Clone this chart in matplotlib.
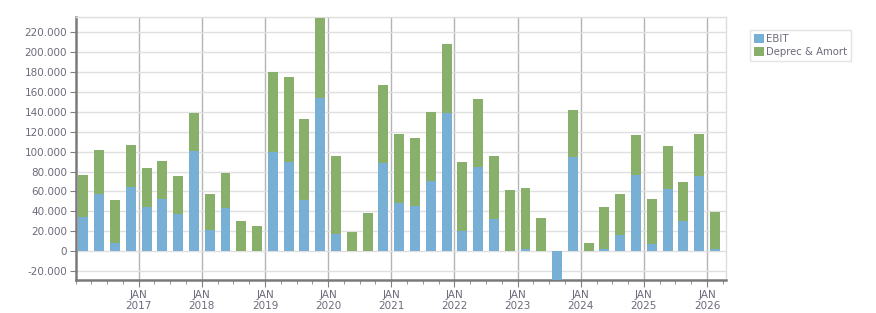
import numpy as np
import matplotlib.pyplot as plt
from matplotlib.ticker import FuncFormatter, MultipleLocator

# quarterly values, 2016 Q1 .. 2026 Q1
ebit = [34200, 57700, 8000, 64400, 44300, 52300, 37600, 100700, 21100, 43600,
        -500, -500, 99700, 89600, 51300, 154000, 17100, -500, -300, 88600,
        48300, 45600, 70500, 138900, 20100, 84600, 32200, -500, 2000, -500,
        -31000, 94600, -500, 2000, 16100, 76500, 7000, 62400, 30200, 75800, 2000]
deprec = [42300, 44000, 43300, 42300, 39300, 38300, 37900, 38200, 36300, 34900,
          30200, 25200, 80500, 85600, 81600, 80600, 78500, 19100, 38300, 78500,
          69500, 68200, 69400, 69500, 69500, 68400, 63400, 61400, 61400, 33200,
          0, 47300, 8100, 42300, 41300, 40300, 45300, 43300, 39300, 42000, 37300]
years = list(range(2017, 2027))

blue = '#77b0d4'
green = '#88b06b'
txt = '#6b6b7b'

x = np.arange(len(ebit)) + 0.5
ebit = np.array(ebit)
deprec = np.array(deprec)
base = np.where(ebit > 0, ebit, 0)

fig = plt.figure(figsize=(8.76, 3.13), dpi=100)
ax = fig.add_axes([75.5 / 876, 33 / 313, 650.5 / 876, 263 / 313])

ax.bar(x, ebit, width=0.63, color=blue, label='EBIT', zorder=3)
ax.bar(x, deprec, width=0.63, bottom=base, color=green, label='Deprec & Amort', zorder=3)

ax.set_xlim(0, 41.2)
ax.set_ylim(-29200, 235500)

ax.yaxis.set_major_locator(MultipleLocator(20000))
ax.yaxis.set_major_formatter(FuncFormatter(lambda v, p: f'{int(v):,}'.replace(',', '.')))
ax.grid(axis='y', color='#e0e0e0', linewidth=1, zorder=0)

ax.set_xticks([4 * (i + 1) for i in range(len(years))])
ax.set_xticklabels([f'JAN\n{y}' for y in years])
ax.set_xticks(range(0, 42), minor=True)
ax.grid(axis='x', which='major', color='#b4b4b4', linewidth=1, zorder=1)

ax.tick_params(axis='y', length=4, color='#808080', labelsize=7.5, labelcolor=txt, pad=2)
ax.tick_params(axis='x', which='major', length=5, color='#808080', labelsize=7.5, labelcolor=txt, pad=2)
ax.tick_params(axis='x', which='minor', length=3, color='#808080')

for s in ['left', 'bottom']:
    ax.spines[s].set_color('#7a7a7a')
    ax.spines[s].set_linewidth(1.8)
for s in ['top', 'right']:
    ax.spines[s].set_color('#dddddd')
    ax.spines[s].set_linewidth(1)

leg = fig.legend(loc='upper left', bbox_to_anchor=(750 / 876, 1 - 30 / 313), fontsize=7.3,
                 frameon=True, fancybox=False, handlelength=0.95, handleheight=0.95,
                 handletextpad=0.25, borderpad=0.4, labelspacing=0.3, borderaxespad=0)
leg.get_frame().set_edgecolor('#dddddd')
for t in leg.get_texts():
    t.set_color(txt)

fig.savefig('out.png', dpi=100)
